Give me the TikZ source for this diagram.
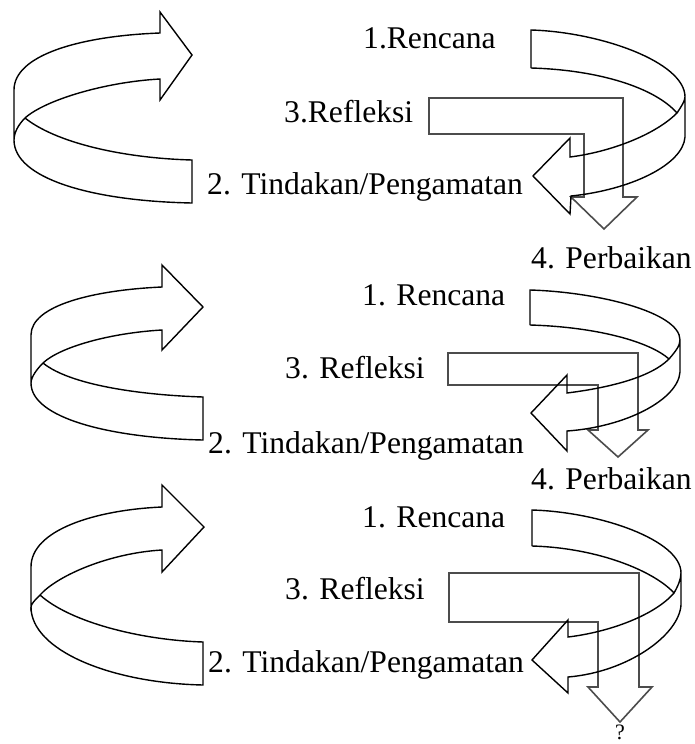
\documentclass[tikz,border=0pt]{standalone}
\usepackage{fontspec}
\setmainfont{Liberation Serif}
\begin{document}
\begin{tikzpicture}[x=1pt,y=-1pt,
  ribbon/.style={draw=black,line width=1.4pt,line join=miter},
  larrow/.style={draw=black!70,line width=1.6pt,line join=miter},
  lbl/.style={anchor=base west,inner sep=0pt,font=\fontsize{31.6}{37}\selectfont}]
\useasboundingbox (0,0) rectangle (695,744);

% ===== Cycle 1 =====
% left ribbon arrow
\draw[ribbon] (14,90) .. controls (14,55) and (80,36) .. (160,33)
  -- (160,12) -- (192,55) -- (160,100) -- (160,79)
  .. controls (105,82) and (45,100) .. (25,118)
  .. controls (18,125) and (14,133) .. (14,140) -- cycle;
\draw[ribbon] (25,118) .. controls (55,142) and (120,158) .. (192,160) -- (192,203)
  .. controls (90,201) and (14,178) .. (14,140);
% L arrow
\draw[larrow] (429,98) -- (623,98) -- (623,197) -- (637,197) -- (604,229)
  -- (571,197) -- (584,197) -- (584,134) -- (429,134) -- cycle;
% right U arrow
\draw[ribbon] (531,68) -- (531,30) .. controls (600,32) and (685,62) .. (685,97) -- (685,137)
  .. controls (683,165) and (630,190) .. (571,196)
  -- (570,214) -- (533,176) -- (570,138) -- (570,157)
  .. controls (610,152) and (655,135) .. (677,113)
  .. controls (681,107) and (685,101) .. (685,97);
\draw[ribbon] (531,68) .. controls (600,70) and (655,88) .. (677,113);
% labels
\node[lbl] (r1) at (363,48) {1.Rencana};
\node[lbl] (f1) at (284,122) {3.Refleksi};
\node[lbl] (t1) at (207,194) {2. Tindakan/Pengamatan};
\node[lbl] (p1) at (531,268) {4. Perbaikan};

% ===== Cycle 2 =====
\draw[ribbon] (31,335) .. controls (31,305) and (95,290) .. (162,287)
  -- (162,265) -- (203,307) -- (162,350) -- (162,330)
  .. controls (110,333) and (60,347) .. (43,363)
  .. controls (37,369) and (31,377) .. (31,383) -- cycle;
\draw[ribbon] (43,363) .. controls (70,385) and (140,395) .. (203,397) -- (203,440)
  .. controls (110,438) and (31,418) .. (31,383);
\draw[larrow] (448,353) -- (638,353) -- (638,430) -- (648,430) -- (618,457)
  -- (588,430) -- (598,430) -- (598,385) -- (448,385) -- cycle;
\draw[ribbon] (530,325) -- (530,290) .. controls (597,292) and (680,312) .. (680,340) -- (680,372)
  .. controls (678,400) and (625,427) .. (567,431)
  -- (567,451) -- (531,413) -- (567,375) -- (567,393)
  .. controls (607,388) and (650,378) .. (669,359)
  .. controls (675,352) and (680,346) .. (680,340);
\draw[ribbon] (530,325) .. controls (598,327) and (650,342) .. (669,359);
\node[lbl] (r2) at (362,305) {1. Rencana};
\node[lbl] (f2) at (285,378) {3. Refleksi};
\node[lbl] (t2) at (208,453) {2. Tindakan/Pengamatan};
\node[lbl] (p2) at (531,489) {4. Perbaikan};

% ===== Cycle 3 =====
\draw[ribbon] (31,567) .. controls (31,530) and (95,510) .. (162,507)
  -- (162,485) -- (204,527) -- (162,572) -- (162,550)
  .. controls (110,553) and (58,575) .. (40,595)
  .. controls (35,600) and (31,604) .. (31,607) -- cycle;
\draw[ribbon] (40,595) .. controls (70,622) and (140,640) .. (203,642) -- (203,685)
  .. controls (110,683) and (31,650) .. (31,607);
\draw[larrow] (449,573) -- (639,573) -- (639,687) -- (652,687) -- (620,722)
  -- (588,687) -- (598,687) -- (598,622) -- (449,622) -- cycle;
\draw[ribbon] (532,546) -- (532,510) .. controls (600,512) and (681,540) .. (681,573) -- (681,605)
  .. controls (679,635) and (628,672) .. (568,677)
  -- (568,693) -- (532,660) -- (568,620) -- (568,637)
  .. controls (610,632) and (655,615) .. (674,593)
  .. controls (678,586) and (681,579) .. (681,573);
\draw[ribbon] (532,546) .. controls (600,548) and (655,572) .. (674,593);
\node[lbl] (r3) at (362,527) {1. Rencana};
\node[lbl] (f3) at (285,599) {3. Refleksi};
\node[lbl] (t3) at (208,672) {2. Tindakan/Pengamatan};
\node[anchor=base,inner sep=0pt,font=\fontsize{22}{26}\selectfont] (q3) at (620,739) {?};
\end{tikzpicture}
\end{document}
